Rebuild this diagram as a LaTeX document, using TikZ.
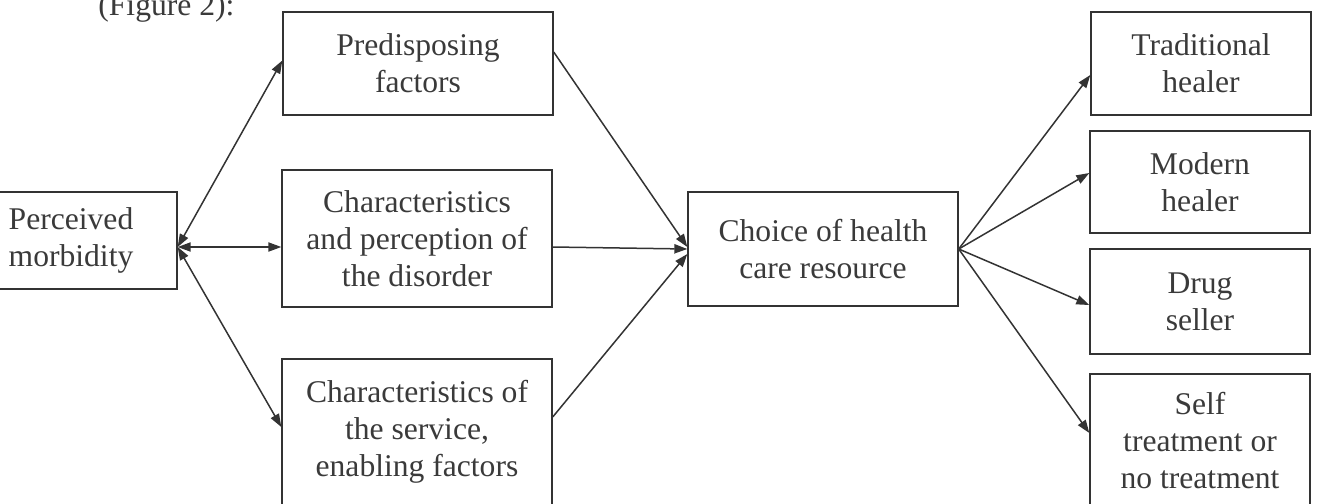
\documentclass[tikz,border=0pt]{standalone}
\usepackage{fontspec}
\setmainfont{Liberation Serif}
\usepackage{tikz}
\usepackage{xcolor}
\usetikzlibrary{
    positioning,
    calc,
    arrows.meta
}
\definecolor{LinhaEscura}{HTML}{333333}
\definecolor{TextoEscuro}{HTML}{3A3A3A}

\tikzset{
    factorbox/.style={
        draw=LinhaEscura,
        line width=0.7pt,
        inner sep=0pt,
        align=center,
        text=TextoEscuro,
        font=\fontsize{15.8}{18.5}\selectfont
    },
    link/.style={
        draw=LinhaEscura,
        line width=0.75pt,
        -{Triangle[length=6.5pt,width=4.6pt]}
    },
    duallink/.style={
        link,
        {Triangle[length=6.5pt,width=4.6pt]}-{Triangle[length=6.5pt,width=4.6pt]}
    }
}

\begin{document}
\begin{tikzpicture}[x=0.5pt,y=-0.5pt]

    \useasboundingbox (0,0) rectangle (1320,503);

    % caption line, cut at the top of the scan
    \node[
        anchor=base west,
        inner sep=0pt,
        text=TextoEscuro,
        font=\fontsize{15.8}{18.5}\selectfont
    ] (caption) at (98,15) {(Figure 2):};

    % left column
    \node[factorbox, minimum width=106pt, minimum height=48.5pt]
        (morb) at (71,240.5) {Perceived\\morbidity};

    % middle column
    \node[factorbox, minimum width=135pt, minimum height=51.5pt]
        (pred) at (418,63.5) {Predisposing\\factors};
    \node[factorbox, minimum width=135pt, minimum height=68.5pt]
        (dis) at (417,238.5) {Characteristics\\and perception of\\the disorder};
    \node[factorbox, minimum width=135pt, minimum height=73pt]
        (serv) at (417,432) {Characteristics of\\the service,\\enabling factors};

    % choice
    \node[factorbox, minimum width=135pt, minimum height=57pt]
        (choice) at (823,249) {Choice of health\\care resource};

    % right column
    \node[factorbox, minimum width=110pt, minimum height=51.5pt]
        (trad) at (1201,63.5) {Traditional\\healer};
    \node[factorbox, minimum width=110pt, minimum height=51pt]
        (mod) at (1200,182) {Modern\\healer};
    \node[factorbox, minimum width=110pt, minimum height=52.5pt]
        (drug) at (1200,301.5) {Drug\\seller};
    \node[factorbox, minimum width=110pt, minimum height=67pt]
        (self) at (1200,441) {Self\\treatment or\\no treatment};

    % morbidity <-> factors
    \draw[duallink] ([yshift=-3.25pt]morb.east) -- ([yshift=1.5pt]pred.west);
    \draw[duallink] ([yshift=-3.25pt]morb.east) -- ([yshift=-4.25pt]dis.west);
    \draw[duallink] ([yshift=-3.25pt]morb.east) -- ([yshift=2.5pt]serv.west);

    % factors -> choice
    \draw[link] ([yshift=5.75pt]pred.east) -- ([yshift=1pt]choice.west);
    \draw[link] ([yshift=-4.25pt]dis.east) -- (choice.west);
    \draw[link] ([yshift=7.5pt]serv.east) -- ([yshift=-2.5pt]choice.west);

    % choice -> resources
    \draw[link] (choice.east) -- ([yshift=-5.75pt]trad.west);
    \draw[link] (choice.east) -- ([yshift=4.5pt]mod.west);
    \draw[link] (choice.east) -- ([yshift=-1.75pt]drug.west);
    \draw[link] (choice.east) -- ([yshift=4pt]self.west);

\end{tikzpicture}
\end{document}
